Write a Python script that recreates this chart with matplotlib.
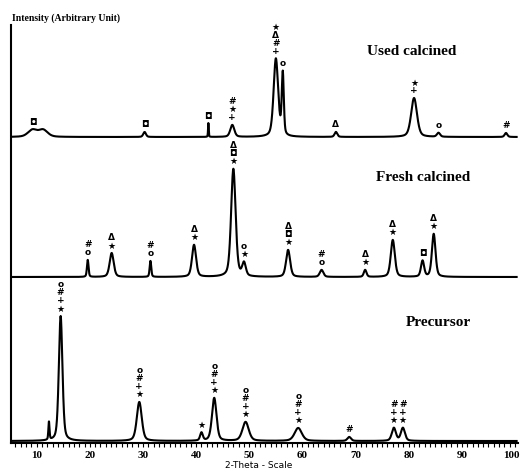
import numpy as np
import matplotlib
matplotlib.use("Agg")
import matplotlib.pyplot as plt
import matplotlib.transforms as mtransforms

# ---------------- data ----------------
# peak positions (2-theta), heights (arbitrary units), widths (FWHM, deg)
used_pos = [9.2, 11.2, 30.3, 42.3, 46.8, 55.0, 56.3, 66.3, 81.0, 85.6, 98.3]
used_hgt = [7, 7, 5, 14, 12, 78, 62, 5, 39, 4, 4]
used_wid = [2.0, 2.0, 0.6, 0.15, 0.9, 1.0, 0.45, 0.6, 1.3, 0.7, 0.6]
used_lab = ["◘", "", "◘", "◘", "#*+", "*D#+", "o", "D", "*+", "o", "#"]

fresh_pos = [19.6, 24.1, 31.4, 39.6, 47.0, 49.0, 57.3, 63.6, 71.8, 77.0, 82.6, 84.7]
fresh_hgt = [17, 24, 16, 32, 108, 13, 27, 7, 7, 37, 16, 43]
fresh_wid = [0.35, 0.9, 0.35, 0.9, 1.0, 0.8, 0.9, 0.8, 0.6, 0.9, 0.7, 0.8]
fresh_lab = ["#o", "D*", "#o", "D*", "D◘*", "o*", "D◘*", "#o", "D*", "D*", "◘", "D*"]

prec_pos = [12.3, 14.5, 29.3, 41.0, 43.4, 49.3, 59.2, 68.8, 77.2, 78.9]
prec_hgt = [18, 125, 39, 8, 43, 19, 13, 4, 13, 13]
prec_wid = [0.25, 0.8, 1.1, 0.6, 1.0, 1.4, 1.6, 0.8, 0.9, 0.9]
prec_lab = ["", "o#+*", "o#+*", "*", "o#+*", "o#+*", "o#+*", "#", "#+*", "#+*"]

baselines = {"Used calcined": 306, "Fresh calcined": 166, "Precursor": 2}
xticks = [10, 20, 30, 40, 50, 60, 70, 80, 90, 100]

glyph = {"*": "★", "D": "Δ", "#": "#", "+": "+", "o": "o", "◘": "◘"}

# ---------------- figure ----------------
W, H = 521, 472
fig = plt.figure(figsize=(W / 100, H / 100), dpi=100)
ax = fig.add_axes([11 / W, 1 - 443 / H, 507 / W, 418 / H])
ax.set_xlim(5.16, 100.56)
ax.set_ylim(0, 418)

x = np.linspace(5.5, 100.3, 4000)


def profile(pos, hgt, wid):
    y = np.zeros_like(x)
    for p, h, w in zip(pos, hgt, wid):
        g = np.exp(-4 * np.log(2) * ((x - p) / w) ** 2)
        l = 1 / (1 + 4 * ((x - p) / w) ** 2)
        y += h * (0.6 * g + 0.4 * l)
    return y


series = [
    ("Used calcined", used_pos, used_hgt, used_wid, used_lab),
    ("Fresh calcined", fresh_pos, fresh_hgt, fresh_wid, fresh_lab),
    ("Precursor", prec_pos, prec_hgt, prec_wid, prec_lab),
]

for name, pos, hgt, wid, lab in series:
    b = baselines[name]
    y = b + profile(pos, hgt, wid)
    ax.plot(x, y, color="black", lw=1.5)
    for p, labs in zip(pos, lab):
        ytop = y[np.argmin(abs(x - p))]
        n = len(labs)
        for i, c in enumerate(labs):
            yy = ytop + 7 + (n - 1 - i) * 8
            ax.text(p, yy, glyph[c], ha="center", va="center", fontsize=6.5,
                    fontweight="bold", color="black", family="DejaVu Sans")

ax.text(80.5, 392, "Used calcined", ha="center", va="center", fontsize=11,
        fontweight="bold", family="Liberation Serif")
ax.text(82.8, 266, "Fresh calcined", ha="center", va="center", fontsize=11,
        fontweight="bold", family="Liberation Serif")
ax.text(85.5, 121, "Precursor", ha="center", va="center", fontsize=11,
        fontweight="bold", family="Liberation Serif")

for s in ["top", "right"]:
    ax.spines[s].set_visible(False)
ax.spines["left"].set_linewidth(1.5)
ax.spines["bottom"].set_linewidth(1.5)
ax.set_yticks([])
ax.set_xticks(xticks)
ax.set_xticks(np.arange(6, 101, 1), minor=True)
ax.tick_params(axis="x", which="both", direction="out", length=3, width=0.8, pad=3)
labels = ax.get_xticklabels()
for t in labels:
    t.set_fontfamily("Liberation Serif")
    t.set_fontweight("bold")
    t.set_fontsize(8)
labels[-1].set_transform(labels[-1].get_transform() +
                         mtransforms.ScaledTranslation(-4 / 100, 0, fig.dpi_scale_trans))

fig.text(12 / W, 1 - 18 / H, "Intensity (Arbitrary Unit)", ha="left", va="center",
         fontsize=7, fontweight="bold", family="Liberation Serif")
fig.text(259 / W, 1 - 466 / H, "2-Theta - Scale", ha="center", va="center",
         fontsize=6.5, family="DejaVu Sans")

fig.savefig("out.png", dpi=100)
